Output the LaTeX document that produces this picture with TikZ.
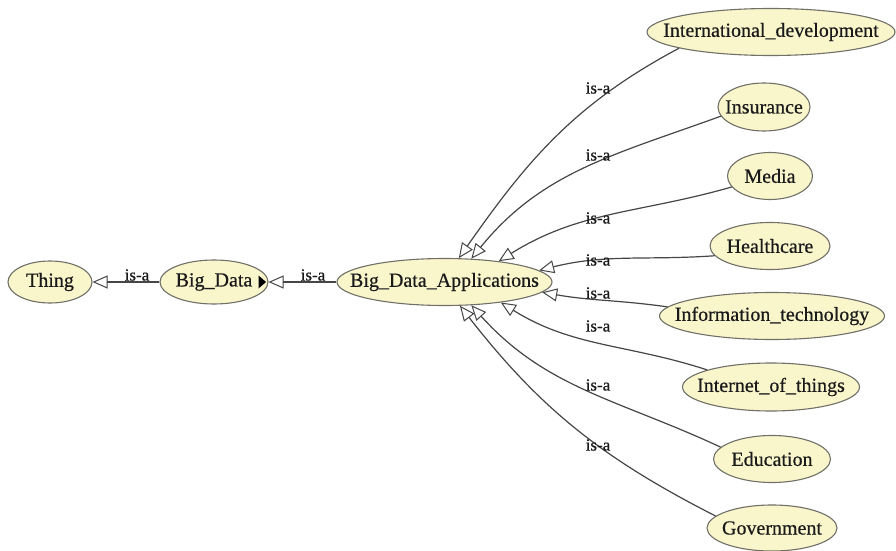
\documentclass[tikz,border=0pt]{standalone}
\usepackage{fontspec}
\setmainfont{Liberation Serif}[BoldFont={Liberation Serif}, BoldFeatures={FakeBold=0.5}]
\usetikzlibrary{shapes.geometric,arrows.meta}
\definecolor{ellfill}{HTML}{FAF6CC}
\definecolor{ellborder}{HTML}{707068}
\definecolor{edgec}{HTML}{464646}
\definecolor{txt}{HTML}{1A1A1A}
\tikzset{
  cls/.style={ellipse, draw=ellborder, fill=ellfill, line width=1.1pt, inner sep=0pt,
    font=\fontsize{20}{24}\selectfont\bfseries, text=txt},
  isa/.style={font=\fontsize{17}{20}\selectfont\bfseries, inner sep=0pt, text=txt},
  isaedge/.style={draw=edgec, line width=1.2pt,
    -{Triangle[open, length=15pt, width=13pt, line width=1pt]}}
}
\newcommand{\cl}[1]{\makebox[0pt]{#1}}
\begin{document}
\begin{tikzpicture}[x=1pt,y=1pt]
\useasboundingbox (0,0) rectangle (896,550);
\fill[white] (0,0) rectangle (896,550);
% nodes
\node[cls, minimum width=84, minimum height=42] (thing) at (50,268) {\cl{Thing}};
\node[cls, minimum width=108, minimum height=44] (bigdata) at (214,268) {\cl{Big\_Data}};
\node[cls, minimum width=215, minimum height=47] (bda) at (444.5,268) {\cl{Big\_Data\_Applications}};
\node[cls, minimum width=248, minimum height=47] (intdev) at (771,518) {\cl{International\_development}};
\node[cls, minimum width=92, minimum height=48] (insurance) at (764,443) {\cl{Insurance}};
\node[cls, minimum width=85, minimum height=47] (media) at (770,374) {\cl{Media}};
\node[cls, minimum width=120, minimum height=47] (health) at (770,304) {\cl{Healthcare}};
\node[cls, minimum width=225, minimum height=47] (infotech) at (772,234) {\cl{Information\_technology}};
\node[cls, minimum width=177, minimum height=48] (iot) at (771,163) {\cl{Internet\_of\_things}};
\node[cls, minimum width=117, minimum height=47] (edu) at (772,91) {\cl{Education}};
\node[cls, minimum width=130, minimum height=46] (gov) at (772,22) {\cl{Government}};
% marker in Big_Data
\fill[black] ([xshift=-10pt,yshift=6.5pt]bigdata.east) -- ([xshift=-2.5pt]bigdata.east)
  -- ([xshift=-10pt,yshift=-6.5pt]bigdata.east) -- cycle;
% edges
\draw[isaedge] (bigdata.west) -- (thing.east);
\draw[isaedge] (bda.west) -- (bigdata.east);
\draw[isaedge] (intdev.190) to[out=208,in=55] (bda.59);
\draw[isaedge] (insurance.192) to[out=200,in=51] (bda.41);
\draw[isaedge] (media.196) to[out=196,in=32] (bda.21);
\draw[isaedge] (health.190) to[out=184,in=14] (bda.7);
\draw[isaedge] (infotech.175) to[out=172,in=-10] (bda.-6.4);
\draw[isaedge] (iot.165) to[out=162,in=-32] (bda.-20);
\draw[isaedge] (edu.167) to[out=155,in=-48] (bda.-41);
\draw[isaedge] (gov.168) to[out=153,in=-52] (bda.-57);
% labels
\node[isa] (l0a) at (137,275) {is-a};
\node[isa] (l0b) at (313,275) {is-a};
\node[isa] (l1) at (598,462) {is-a};
\node[isa] (l2) at (598,395) {is-a};
\node[isa] (l3) at (598,332) {is-a};
\node[isa] (l4) at (598,290) {is-a};
\node[isa] (l5) at (598,257) {is-a};
\node[isa] (l6) at (598,224) {is-a};
\node[isa] (l7) at (598,165) {is-a};
\node[isa] (l8) at (598,105) {is-a};
\end{tikzpicture}
\end{document}
